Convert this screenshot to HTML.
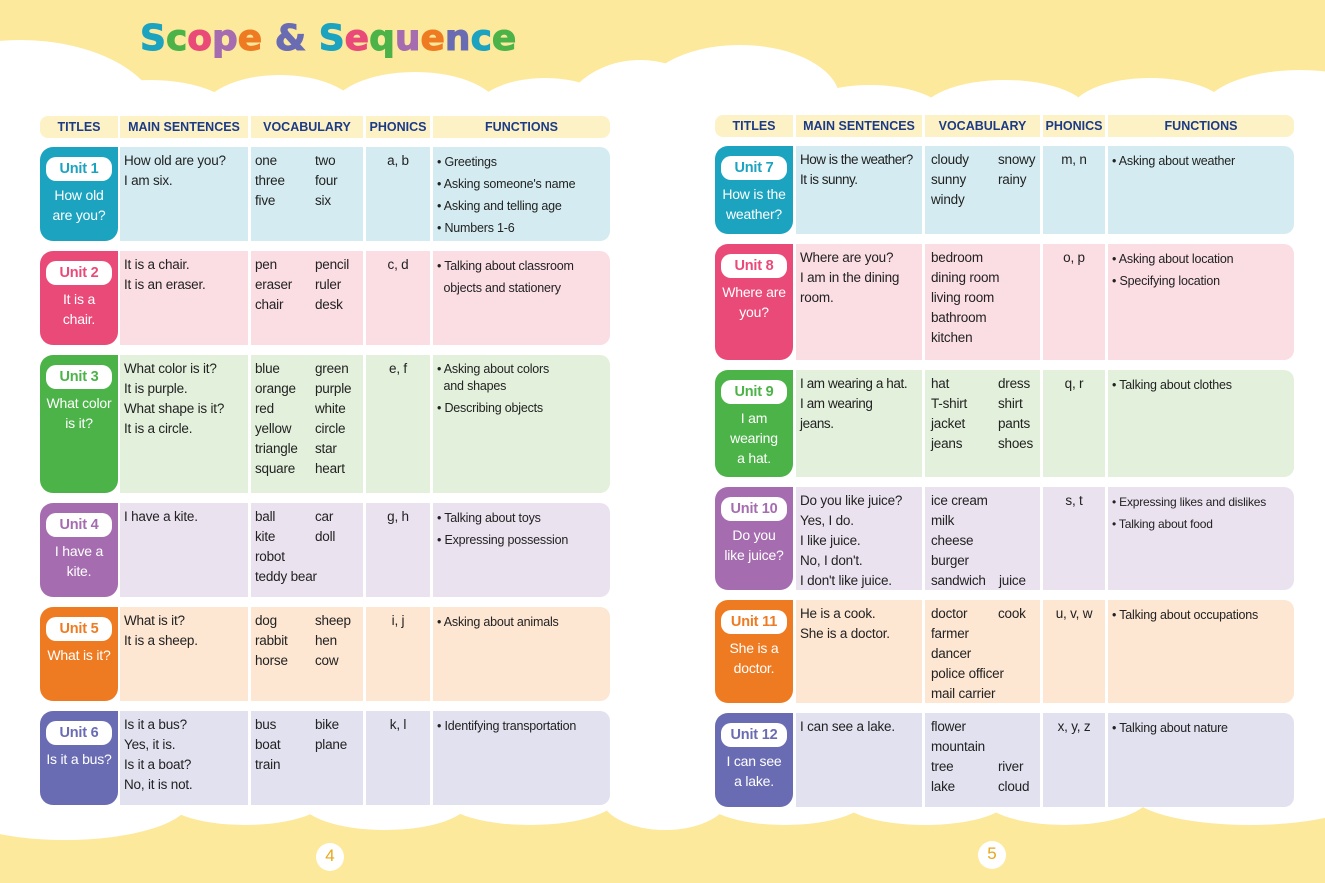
<!DOCTYPE html>
<html><head><meta charset="utf-8">
<style>
*{margin:0;padding:0;box-sizing:border-box}
body{width:1325px;height:883px;overflow:hidden;background:#fde99c;position:relative;font-family:"Liberation Sans",Arial,sans-serif;color:#222}
.w{position:absolute;background:#fff;border-radius:50%}
.wr{position:absolute;background:#fff}
h1{position:absolute;left:140px;top:18px;font-size:36px;font-weight:bold;letter-spacing:0px;font-family:"DejaVu Sans","Liberation Sans",sans-serif;-webkit-text-stroke:1px currentColor}
.hdr,.row{position:absolute;height:22px}
.hdr div{position:absolute;top:0;height:22px;background:#fdf1c6;color:#1c3b86;font-weight:bold;font-size:12.5px;text-align:center;line-height:22px;font-family:"Liberation Sans",Arial,sans-serif}
.row div{position:absolute;top:0;bottom:0;font-size:13.5px;line-height:20px;padding:4px 4px;font-family:"Liberation Sans",Arial,sans-serif;letter-spacing:-0.2px}
.t{border-radius:13px 0 13px 13px;color:#fff;text-align:center;padding:10px 0 0 0!important;font-size:14px!important}
.t b{display:block;background:#fff;border-radius:10px;width:66px;margin:0 auto 4px;height:24px;line-height:24px;font-size:14.5px}
.p{text-align:center}
.f{border-radius:0 10px 10px 0;font-size:12.5px!important;line-height:22px!important}
.v span{position:absolute}
.hl{left:40px;width:570px}
.hr{left:715px;width:579px}
.v{padding:0!important}
</style></head><body>
<div class="wr" style="left:0;top:110px;width:1325px;height:690px"></div>
<div class="w" style="left:-120px;top:40px;width:280px;height:160px"></div>
<div class="w" style="left:60px;top:80px;width:180px;height:80px"></div>
<div class="w" style="left:200px;top:75px;width:160px;height:80px"></div>
<div class="w" style="left:330px;top:72px;width:170px;height:80px"></div>
<div class="w" style="left:470px;top:78px;width:150px;height:80px"></div>
<div class="w" style="left:560px;top:60px;width:160px;height:130px"></div>
<div class="w" style="left:640px;top:45px;width:200px;height:110px"></div>
<div class="w" style="left:790px;top:85px;width:160px;height:70px"></div>
<div class="w" style="left:920px;top:80px;width:170px;height:70px"></div>
<div class="w" style="left:1070px;top:78px;width:160px;height:70px"></div>
<div class="w" style="left:1200px;top:70px;width:200px;height:90px"></div>
<div class="w" style="left:-60px;top:760px;width:250px;height:80px"></div>
<div class="w" style="left:160px;top:765px;width:170px;height:60px"></div>
<div class="w" style="left:300px;top:770px;width:170px;height:60px"></div>
<div class="w" style="left:440px;top:765px;width:180px;height:60px"></div>
<div class="w" style="left:600px;top:760px;width:130px;height:70px"></div>
<div class="w" style="left:700px;top:765px;width:170px;height:60px"></div>
<div class="w" style="left:840px;top:770px;width:170px;height:55px"></div>
<div class="w" style="left:980px;top:765px;width:170px;height:60px"></div>
<div class="w" style="left:1130px;top:760px;width:240px;height:65px"></div>
<div class="w" style="left:316px;top:843px;width:28px;height:28px"></div>
<div class="w" style="left:978px;top:841px;width:28px;height:28px"></div>
<div style="position:absolute;left:316px;top:846px;width:28px;text-align:center;font-size:17px;color:#e9a71a">4</div>
<div style="position:absolute;left:978px;top:844px;width:28px;text-align:center;font-size:17px;color:#e9a71a">5</div>

<h1><span style="color:#1ba3c0">S</span><span style="color:#4cb348">c</span><span style="color:#e94a78">o</span><span style="color:#a56cb0">p</span><span style="color:#ee7b22">e</span> <span style="color:#6a6cb3">&amp;</span> <span style="color:#1ba3c0">S</span><span style="color:#e94a78">e</span><span style="color:#4cb348">q</span><span style="color:#a56cb0">u</span><span style="color:#ee7b22">e</span><span style="color:#6a6cb3">n</span><span style="color:#1ba3c0">c</span><span style="color:#4cb348">e</span></h1>

<div class="hdr hl" style="top:116px">
<div style="left:0;width:78px;border-radius:8px 0 0 8px">TITLES</div><div style="left:80px;width:128px">MAIN SENTENCES</div><div style="left:211px;width:112px">VOCABULARY</div><div style="left:326px;width:64px">PHONICS</div><div style="left:393px;width:177px;border-radius:0 8px 8px 0">FUNCTIONS</div></div>
<div class="hdr hr" style="top:115px">
<div style="left:0;width:78px;border-radius:8px 0 0 8px">TITLES</div><div style="left:81px;width:126px">MAIN SENTENCES</div><div style="left:210px;width:115px">VOCABULARY</div><div style="left:328px;width:62px">PHONICS</div><div style="left:393px;width:186px;border-radius:0 8px 8px 0">FUNCTIONS</div></div>

<div class="row hl" style="top:147px;height:94px">
<div class="t" style="left:0;width:78px;background:#1ba3c0"><b style="color:#1ba3c0">Unit 1</b>How old<br>are you?</div>
<div style="left:80px;width:128px;background:#d4ecf1">How old are you?<br>I am six.</div>
<div class="v" style="left:211px;width:112px;background:#d4ecf1"><span style="left:4px;top:4px">one<br>three<br>five</span><span style="left:64px;top:4px">two<br>four<br>six</span></div>
<div class="p" style="left:326px;width:64px;background:#d4ecf1">a, b</div>
<div class="f" style="left:393px;width:177px;background:#d4ecf1">• Greetings<br>• Asking someone's name<br>• Asking and telling age<br>• Numbers 1-6</div></div>

<div class="row hl" style="top:251px;height:94px">
<div class="t" style="left:0;width:78px;background:#e94a78"><b style="color:#e94a78">Unit 2</b>It is a<br>chair.</div>
<div style="left:80px;width:128px;background:#fbdde4">It is a chair.<br>It is an eraser.</div>
<div class="v" style="left:211px;width:112px;background:#fbdde4"><span style="left:4px;top:4px">pen<br>eraser<br>chair</span><span style="left:64px;top:4px">pencil<br>ruler<br>desk</span></div>
<div class="p" style="left:326px;width:64px;background:#fbdde4">c, d</div>
<div class="f" style="left:393px;width:177px;background:#fbdde4">• Talking about classroom<br>&nbsp;&nbsp;objects and stationery</div></div>

<div class="row hl" style="top:355px;height:138px">
<div class="t" style="left:0;width:78px;background:#4cb348"><b style="color:#4cb348">Unit 3</b>What color<br>is it?</div>
<div style="left:80px;width:128px;background:#e3f0dc">What color is it?<br>It is purple.<br>What shape is it?<br>It is a circle.</div>
<div class="v" style="left:211px;width:112px;background:#e3f0dc"><span style="left:4px;top:4px">blue<br>orange<br>red<br>yellow<br>triangle<br>square</span><span style="left:64px;top:4px">green<br>purple<br>white<br>circle<br>star<br>heart</span></div>
<div class="p" style="left:326px;width:64px;background:#e3f0dc">e, f</div>
<div class="f" style="left:393px;width:177px;background:#e3f0dc"><span style="line-height:17px;display:block;margin-top:2px;margin-bottom:2px">• Asking about colors<br>&nbsp;&nbsp;and shapes</span>• Describing objects</div></div>

<div class="row hl" style="top:503px;height:94px">
<div class="t" style="left:0;width:78px;background:#a56cb0"><b style="color:#a56cb0">Unit 4</b>I have a<br>kite.</div>
<div style="left:80px;width:128px;background:#ebe2f0">I have a kite.</div>
<div class="v" style="left:211px;width:112px;background:#ebe2f0"><span style="left:4px;top:4px">ball<br>kite<br>robot<br>teddy bear</span><span style="left:64px;top:4px">car<br>doll</span></div>
<div class="p" style="left:326px;width:64px;background:#ebe2f0">g, h</div>
<div class="f" style="left:393px;width:177px;background:#ebe2f0">• Talking about toys<br>• Expressing possession</div></div>

<div class="row hl" style="top:607px;height:94px">
<div class="t" style="left:0;width:78px;background:#ee7b22"><b style="color:#ee7b22">Unit 5</b>What is it?</div>
<div style="left:80px;width:128px;background:#fde6d2">What is it?<br>It is a sheep.</div>
<div class="v" style="left:211px;width:112px;background:#fde6d2"><span style="left:4px;top:4px">dog<br>rabbit<br>horse</span><span style="left:64px;top:4px">sheep<br>hen<br>cow</span></div>
<div class="p" style="left:326px;width:64px;background:#fde6d2">i, j</div>
<div class="f" style="left:393px;width:177px;background:#fde6d2">• Asking about animals</div></div>

<div class="row hl" style="top:711px;height:94px">
<div class="t" style="left:0;width:78px;background:#6a6cb3"><b style="color:#6a6cb3">Unit 6</b>Is it a bus?</div>
<div style="left:80px;width:128px;background:#e1e1f0">Is it a bus?<br>Yes, it is.<br>Is it a boat?<br>No, it is not.</div>
<div class="v" style="left:211px;width:112px;background:#e1e1f0"><span style="left:4px;top:4px">bus<br>boat<br>train</span><span style="left:64px;top:4px">bike<br>plane</span></div>
<div class="p" style="left:326px;width:64px;background:#e1e1f0">k, l</div>
<div class="f" style="left:393px;width:177px;background:#e1e1f0">• Identifying transportation</div></div>

<div class="row hr" style="top:146px;height:88px">
<div class="t" style="left:0;width:78px;background:#1ba3c0"><b style="color:#1ba3c0">Unit 7</b>How is the<br>weather?</div>
<div style="left:81px;width:126px;background:#d4ecf1;white-space:nowrap;letter-spacing:-0.5px">How is the weather?<br>It is sunny.</div>
<div class="v" style="left:210px;width:115px;background:#d4ecf1"><span style="left:6px;top:4px">cloudy<br>sunny<br>windy</span><span style="left:73px;top:4px">snowy<br>rainy</span></div>
<div class="p" style="left:328px;width:62px;background:#d4ecf1">m, n</div>
<div class="f" style="left:393px;width:186px;background:#d4ecf1">• Asking about weather</div></div>

<div class="row hr" style="top:244px;height:116px">
<div class="t" style="left:0;width:78px;background:#e94a78"><b style="color:#e94a78">Unit 8</b>Where are<br>you?</div>
<div style="left:81px;width:126px;background:#fbdde4">Where are you?<br>I am in the dining<br>room.</div>
<div class="v" style="left:210px;width:115px;background:#fbdde4"><span style="left:6px;top:4px">bedroom<br>dining room<br>living room<br>bathroom<br>kitchen</span></div>
<div class="p" style="left:328px;width:62px;background:#fbdde4">o, p</div>
<div class="f" style="left:393px;width:186px;background:#fbdde4">• Asking about location<br>• Specifying location</div></div>

<div class="row hr" style="top:370px;height:107px">
<div class="t" style="left:0;width:78px;background:#4cb348"><b style="color:#4cb348">Unit 9</b>I am<br>wearing<br>a hat.</div>
<div style="left:81px;width:126px;background:#e3f0dc;white-space:nowrap;letter-spacing:-0.4px">I am wearing a hat.<br>I am wearing<br>jeans.</div>
<div class="v" style="left:210px;width:115px;background:#e3f0dc"><span style="left:6px;top:4px">hat<br>T-shirt<br>jacket<br>jeans</span><span style="left:73px;top:4px">dress<br>shirt<br>pants<br>shoes</span></div>
<div class="p" style="left:328px;width:62px;background:#e3f0dc">q, r</div>
<div class="f" style="left:393px;width:186px;background:#e3f0dc">• Talking about clothes</div></div>

<div class="row hr" style="top:487px;height:103px">
<div class="t" style="left:0;width:78px;background:#a56cb0"><b style="color:#a56cb0">Unit 10</b>Do you<br>like juice?</div>
<div style="left:81px;width:126px;background:#ebe2f0">Do you like juice?<br>Yes, I do.<br>I like juice.<br>No, I don't.<br>I don't like juice.</div>
<div class="v" style="left:210px;width:115px;background:#ebe2f0"><span style="left:6px;top:4px">ice cream<br>milk<br>cheese<br>burger<br>sandwich</span><span style="left:74px;top:84px">juice</span></div>
<div class="p" style="left:328px;width:62px;background:#ebe2f0">s, t</div>
<div class="f" style="left:393px;width:186px;background:#ebe2f0;font-size:12px!important">• Expressing likes and dislikes<br>• Talking about food</div></div>

<div class="row hr" style="top:600px;height:103px">
<div class="t" style="left:0;width:78px;background:#ee7b22"><b style="color:#ee7b22">Unit 11</b>She is a<br>doctor.</div>
<div style="left:81px;width:126px;background:#fde6d2">He is a cook.<br>She is a doctor.</div>
<div class="v" style="left:210px;width:115px;background:#fde6d2"><span style="left:6px;top:4px">doctor<br>farmer<br>dancer<br>police officer<br>mail carrier</span><span style="left:73px;top:4px">cook</span></div>
<div class="p" style="left:328px;width:62px;background:#fde6d2">u, v, w</div>
<div class="f" style="left:393px;width:186px;background:#fde6d2">• Talking about occupations</div></div>

<div class="row hr" style="top:713px;height:94px">
<div class="t" style="left:0;width:78px;background:#6a6cb3"><b style="color:#6a6cb3">Unit 12</b>I can see<br>a lake.</div>
<div style="left:81px;width:126px;background:#e1e1f0">I can see a lake.</div>
<div class="v" style="left:210px;width:115px;background:#e1e1f0"><span style="left:6px;top:4px">flower<br>mountain<br>tree<br>lake</span><span style="left:73px;top:44px">river<br>cloud</span></div>
<div class="p" style="left:328px;width:62px;background:#e1e1f0">x, y, z</div>
<div class="f" style="left:393px;width:186px;background:#e1e1f0">• Talking about nature</div></div>
</body></html>
